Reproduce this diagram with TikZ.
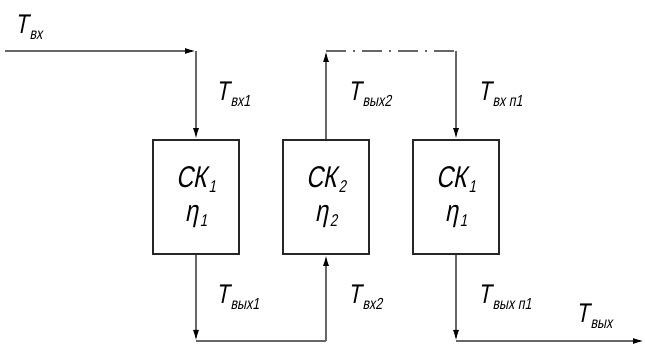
\documentclass[tikz,border=0pt]{standalone}
\usepackage{fontspec}
\newfontfamily\gf[FakeSlant=0.2,FakeStretch=0.78]{Liberation Sans}
\usetikzlibrary{arrows.meta}
\newcommand{\Tl}[1]{{\fontsize{27}{27}\selectfont T}\kern1.5pt\raisebox{-6pt}{\fontsize{16}{16}\selectfont #1}}
\newcommand{\Bl}[2]{{\fontsize{30}{30}\selectfont #1}\kern2pt\raisebox{-5pt}{\fontsize{17}{17}\selectfont #2}}
\tikzset{
  flow/.style={draw=black!60, line width=1.6pt, -{Latex[length=11pt,width=6pt,color=black]}},
  plain/.style={draw=black!60, line width=1.6pt},
  dd/.style={draw=black!60, line width=1.6pt, dash pattern=on 20pt off 7pt on 2pt off 7pt},
  blk/.style={draw=black!85, line width=1.8pt, minimum width=86pt, minimum height=114pt, inner sep=0pt, align=center, font=\gf},
  lbl/.style={anchor=base west, inner sep=0pt, font=\gf},
}
\begin{document}
\begin{tikzpicture}[x=1pt,y=-1pt]
\useasboundingbox (0,0) rectangle (645,344);
\node[blk] (b1) at (196,197) {\Bl{СК}{1}\\[12pt]\Bl{η}{1}};
\node[blk] (b2) at (326,197) {\Bl{СК}{2}\\[12pt]\Bl{η}{2}};
\node[blk] (b3) at (456,197) {\Bl{СК}{1}\\[12pt]\Bl{η}{1}};
\coordinate (in) at (5,51);
\coordinate (c1) at (196,51);
\coordinate (c2) at (196,341);
\coordinate (c3) at (326,341);
\coordinate (c4) at (326,51);
\coordinate (c5) at (456,51);
\coordinate (c6) at (456,341);
\coordinate (out) at (644,341);
\draw[flow] (in) -- (c1);
\draw[flow] (c1) -- (b1.north);
\draw[flow] (b1.south) -- (c2);
\draw[plain] (c2) -- (c3);
\draw[flow] (c3) -- (b2.south);
\draw[flow] (b2.north) -- (c4);
\draw[dd] (c4) -- (c5);
\draw[flow] (c5) -- (b3.north);
\draw[flow] (b3.south) -- (c6);
\draw[flow] (c6) -- (out);
\node[lbl] (t0) at (15,34) {\Tl{вх}};
\node[lbl] (t1) at (216,101) {\Tl{вх1}};
\node[lbl] (t2) at (348,101) {\Tl{вых2}};
\node[lbl] (t3) at (478,101) {\Tl{вх п1}};
\node[lbl] (t4) at (216,304) {\Tl{вых1}};
\node[lbl] (t5) at (348,304) {\Tl{вх2}};
\node[lbl] (t6) at (478,304) {\Tl{вых п1}};
\node[lbl] (t7) at (576,323) {\Tl{вых}};
\end{tikzpicture}
\end{document}
